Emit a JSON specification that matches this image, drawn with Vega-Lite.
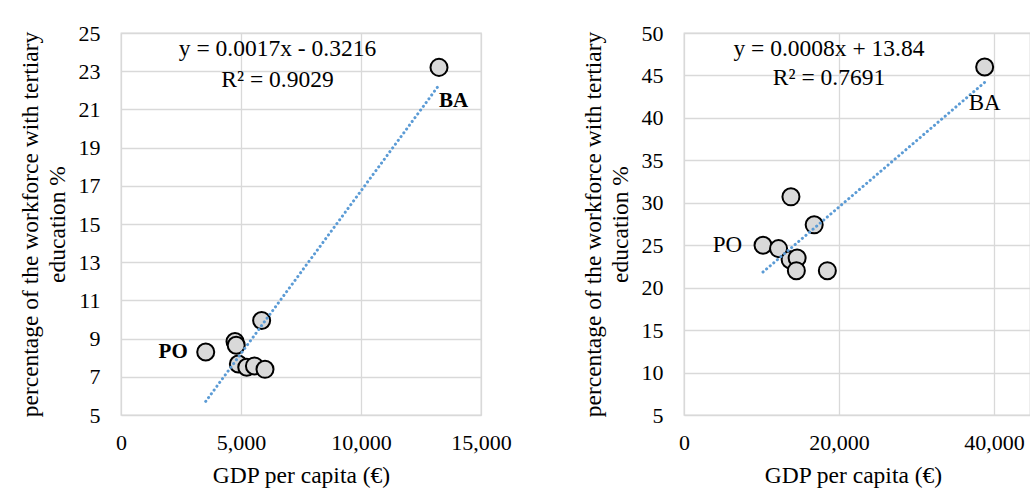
{
  "$schema": "https://vega.github.io/schema/vega-lite/v6.json",
  "padding": {"left": 17, "top": 21, "right": 0, "bottom": 0},
  "spacing": 203,
  "bounds": "flush",
  "datasets": {
    "left": [
      {"gdp": 3530, "pct": 8.3, "label": "PO"},
      {"gdp": 4750, "pct": 8.85, "label": ""},
      {"gdp": 4800, "pct": 8.65, "label": ""},
      {"gdp": 4890, "pct": 7.67, "label": ""},
      {"gdp": 5240, "pct": 7.5, "label": ""},
      {"gdp": 5560, "pct": 7.57, "label": ""},
      {"gdp": 6000, "pct": 7.39, "label": ""},
      {"gdp": 5860, "pct": 9.95, "label": ""},
      {"gdp": 13250, "pct": 23.2, "label": "BA"}
    ],
    "right": [
      {"gdp": 10200, "pct": 25.0, "label": "PO"},
      {"gdp": 12200, "pct": 24.6, "label": ""},
      {"gdp": 13700, "pct": 23.3, "label": ""},
      {"gdp": 14600, "pct": 23.5, "label": ""},
      {"gdp": 14500, "pct": 22.0, "label": ""},
      {"gdp": 18500, "pct": 22.0, "label": ""},
      {"gdp": 13800, "pct": 30.7, "label": ""},
      {"gdp": 16800, "pct": 27.4, "label": ""},
      {"gdp": 38800, "pct": 46.0, "label": "BA"}
    ],
    "leftEq": [
      {"gdp": 6520, "pct": 24.16, "text": "y = 0.0017x - 0.3216"},
      {"gdp": 6520, "pct": 22.54, "text": "R² = 0.9029"}
    ],
    "rightEq": [
      {"gdp": 18710, "pct": 48.12, "text": "y = 0.0008x + 13.84"},
      {"gdp": 18710, "pct": 44.7, "text": "R² = 0.7691"}
    ]
  },
  "hconcat": [
    {
      "width": 360,
      "height": 382,
      "encoding": {
        "x": {"field": "gdp", "type": "quantitative", "scale": {"domain": [0, 15000], "nice": false, "zero": false},
              "axis": {"values": [0, 5000, 10000, 15000], "format": ",.0f", "title": "GDP per capita (€)"}},
        "y": {"field": "pct", "type": "quantitative", "scale": {"domain": [5, 25], "nice": false, "zero": false},
              "axis": {"values": [5, 7, 9, 11, 13, 15, 17, 19, 21, 23, 25], "title": ["percentage of the workforce with tertiary", "education %"]}}
      },
      "layer": [
        {"data": {"name": "left"},
         "mark": {"type": "circle", "size": 290, "fill": "#d9d9d9", "stroke": "black", "strokeWidth": 2, "opacity": 1, "fillOpacity": 1}},
        {"data": {"name": "left"},
         "transform": [{"regression": "pct", "on": "gdp"}],
         "mark": {"type": "line", "color": "#5b9bd5", "strokeWidth": 3, "strokeDash": [0.1, 4.6], "strokeCap": "round"}},
        {"data": {"name": "left"},
         "transform": [{"filter": "datum.label == 'PO'"}],
         "mark": {"type": "text", "align": "right", "baseline": "middle", "dx": -18, "font": "Liberation Serif", "fontSize": 21, "fontWeight": "bold", "color": "black"},
         "encoding": {"text": {"field": "label"}}},
        {"data": {"name": "left"},
         "transform": [{"filter": "datum.label == 'BA'"}],
         "mark": {"type": "text", "align": "left", "baseline": "middle", "dx": 0, "dy": 34, "font": "Liberation Serif", "fontSize": 21, "fontWeight": "bold", "color": "black"},
         "encoding": {"text": {"field": "label"}}},
        {"data": {"name": "leftEq"},
         "mark": {"type": "text", "align": "center", "baseline": "middle", "font": "Liberation Serif", "fontSize": 23.5, "color": "black"},
         "encoding": {"text": {"field": "text"}}}
      ]
    },
    {
      "width": 346,
      "height": 382,
      "encoding": {
        "x": {"field": "gdp", "type": "quantitative", "scale": {"domain": [0, 44650], "nice": false, "zero": false},
              "axis": {"values": [0, 20000, 40000], "format": ",.0f", "title": "GDP per capita (€)", "titleX": 169, "titleAnchor": "middle"}},
        "y": {"field": "pct", "type": "quantitative", "scale": {"domain": [5, 50], "nice": false, "zero": false},
              "axis": {"values": [5, 10, 15, 20, 25, 30, 35, 40, 45, 50], "title": ["percentage of the workforce with tertiary", "education %"]}}
      },
      "layer": [
        {"data": {"name": "right"},
         "mark": {"type": "circle", "size": 290, "fill": "#d9d9d9", "stroke": "black", "strokeWidth": 2, "opacity": 1, "fillOpacity": 1}},
        {"data": {"name": "right"},
         "transform": [{"regression": "pct", "on": "gdp"}],
         "mark": {"type": "line", "color": "#5b9bd5", "strokeWidth": 3, "strokeDash": [0.1, 4.6], "strokeCap": "round"}},
        {"data": {"name": "right"},
         "transform": [{"filter": "datum.label == 'PO'"}],
         "mark": {"type": "text", "align": "right", "baseline": "middle", "dx": -21, "font": "Liberation Serif", "fontSize": 23, "color": "black"},
         "encoding": {"text": {"field": "label"}}},
        {"data": {"name": "right"},
         "transform": [{"filter": "datum.label == 'BA'"}],
         "mark": {"type": "text", "align": "center", "baseline": "middle", "dy": 36, "font": "Liberation Serif", "fontSize": 23, "color": "black"},
         "encoding": {"text": {"field": "label"}}},
        {"data": {"name": "rightEq"},
         "mark": {"type": "text", "align": "center", "baseline": "middle", "font": "Liberation Serif", "fontSize": 23.5, "color": "black"},
         "encoding": {"text": {"field": "text"}}}
      ]
    }
  ],
  "config": {
    "background": "white",
    "view": {"stroke": "#d9d9d9", "strokeWidth": 1.3},
    "axis": {
      "ticks": false,
      "tickSize": 0,
      "domain": false,
      "grid": true,
      "gridColor": "#d9d9d9",
      "gridWidth": 1.3,
      "labelFont": "Liberation Serif",
      "labelFontSize": 22,
      "labelColor": "black",
      "titleFont": "Liberation Serif",
      "titleFontSize": 23.5,
      "titleFontWeight": "normal",
      "titleColor": "black",
      "labelFlush": false,
      "labelOverlap": false
    },
    "axisX": {"labelPadding": 17, "titlePadding": 10},
    "axisY": {"labelPadding": 21, "titlePadding": 9, "titleLineHeight": 27}
  }
}
